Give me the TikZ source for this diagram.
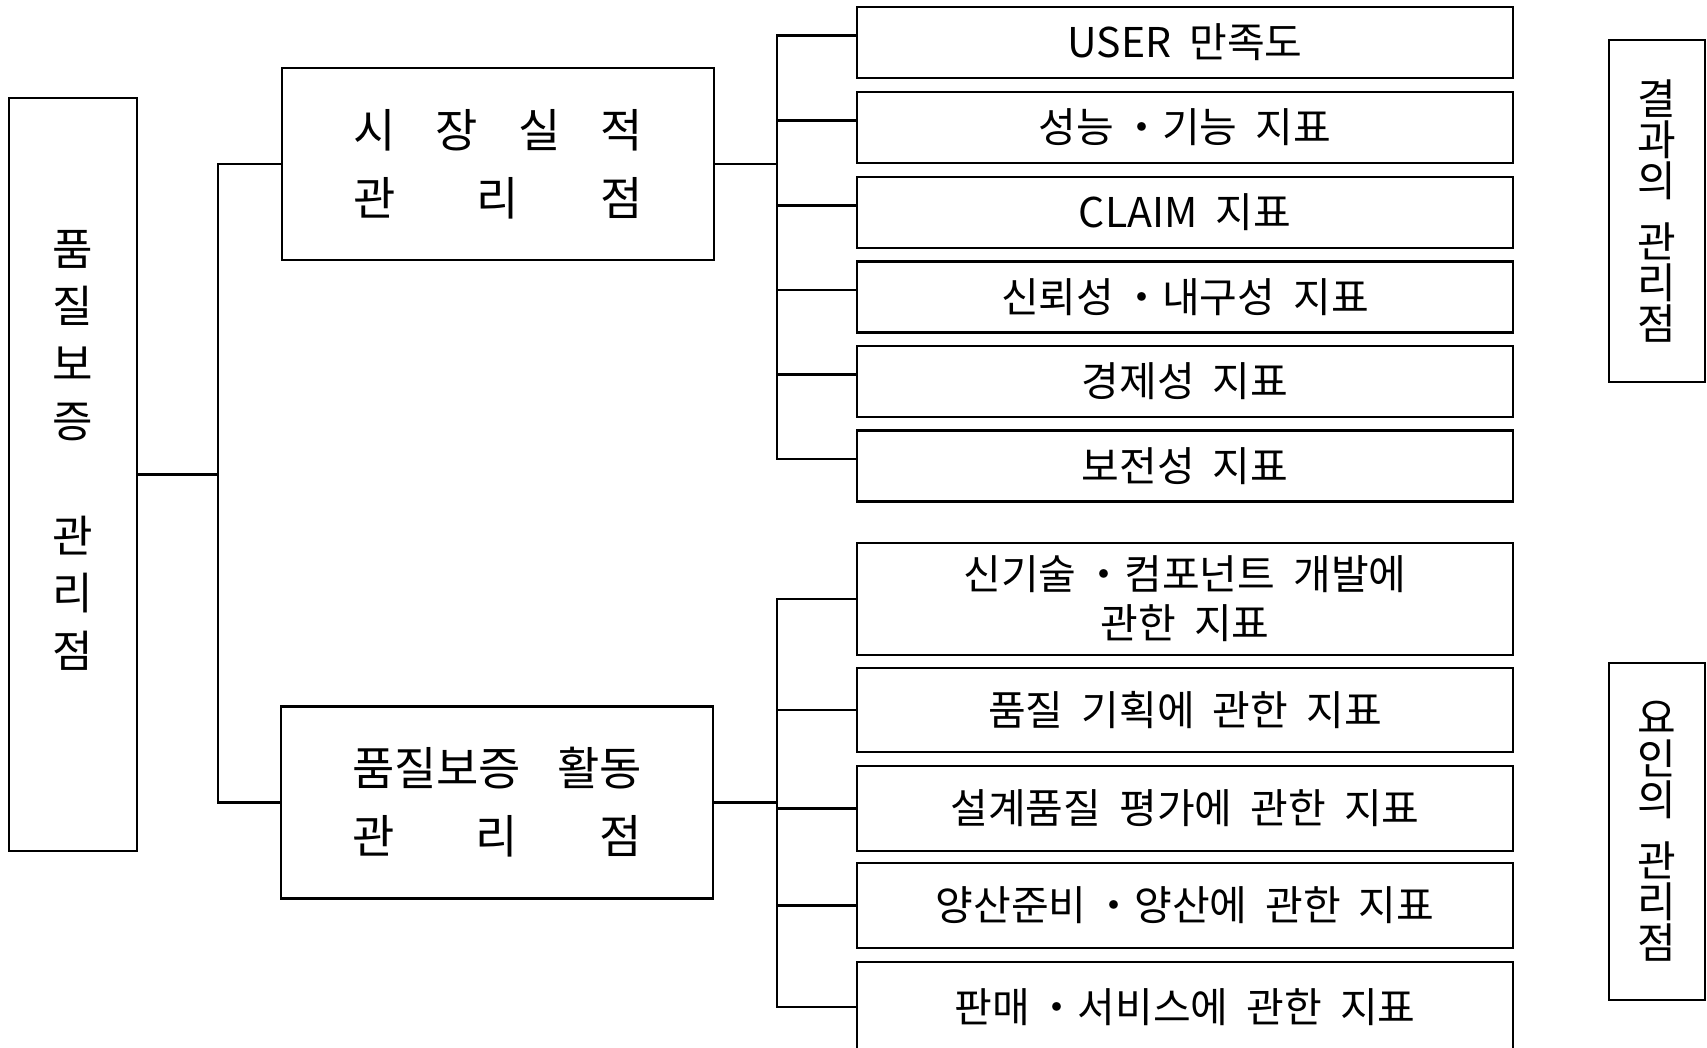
\documentclass[tikz,border=0pt]{standalone}
\usepackage{fontspec}
\setmainfont{Noto Sans CJK KR}
\usepackage{tikz}
\usetikzlibrary{positioning}
\def\idxwidth{328pt}
\def\idxheight{35.5pt}
\def\ptwidth{216pt}
\def\ptheight{96pt}
\def\sidewidth{48pt}
\def\trunkx{777}
\def\idxfont{\fontsize{20.5}{24.5}\selectfont\spaceskip=9pt\relax}

\begin{document}
\begin{tikzpicture}[x=0.5pt, y=-0.5pt,
    box/.style={draw, line width=1.25pt, inner sep=0pt, align=center},
    idxbox/.style={box, minimum width=\idxwidth, minimum height=\idxheight, font=\idxfont},
    ptbox/.style={box, minimum width=\ptwidth, minimum height=\ptheight, font=\fontsize{23}{34}\selectfont},
    sidebox/.style={box, minimum width=\sidewidth},
    conn/.style={line width=1.05pt}]
  \useasboundingbox (0,0) rectangle (1707,1048);
  %\draw [step=50, help lines] (0,0) grid (1707,1048);

  % left column
  \node[sidebox, minimum width=64pt, minimum height=376.5pt] (qa) at (73,474.5) {};
  \node[align=center, font=\fontsize{22}{28.7}\selectfont] (qatext) at (73,450) {품\\질\\보\\증\\[28.7pt]관\\리\\점};

  % middle column
  \node[ptbox] (mkt) at (498,164) {\makebox[145pt][s]{시\hfill 장\hfill 실\hfill 적}\\\makebox[145pt][s]{관\hfill 리\hfill 점}};
  \node[ptbox] (act) at (497,802.5) {\makebox[145pt][s]{품질보증\hfill 활동}\\\makebox[145pt][s]{관\hfill 리\hfill 점}};

  % index boxes, upper group
  \node[idxbox] (u1) at (1185,42.5) {USER 만족도};
  \node[idxbox] (u2) at (1185,127.5) {성능\,・기능 지표};
  \node[idxbox] (u3) at (1185,212.5) {CLAIM 지표};
  \node[idxbox] (u4) at (1185,297) {신뢰성\,・내구성 지표};
  \node[idxbox] (u5) at (1185,381.5) {경제성 지표};
  \node[idxbox] (u6) at (1185,466) {보전성 지표};

  % index boxes, lower group
  \node[idxbox, minimum height=56pt] (l1) at (1185,599) {신기술\,・컴포넌트 개발에\\관한 지표};
  \node[idxbox, minimum height=42pt] (l2) at (1185,710) {품질 기획에 관한 지표};
  \node[idxbox, minimum height=42.5pt] (l3) at (1185,808.5) {설계품질 평가에 관한 지표};
  \node[idxbox, minimum height=42.5pt] (l4) at (1185,905.5) {양산준비\,・양산에 관한 지표};
  \node[idxbox, minimum height=45pt] (l5) at (1185,1007) {판매\,・서비스에 관한 지표};

  % right column
  \node[sidebox, minimum height=171pt, font=\fontsize{21}{20.5}\selectfont] (res) at (1657,211) {결\\과\\의\\[10pt]관\\리\\점};
  \node[sidebox, minimum height=168.5pt, font=\fontsize{21}{20.5}\selectfont] (fac) at (1657,831.5) {요\\인\\의\\[10pt]관\\리\\점};

  % connectors
  \coordinate (lj) at (218,474.5);
  \draw[conn] (qa.east) -- (lj);
  \draw[conn] (mkt.west) -| (lj) |- (act.west);

  \coordinate (uj) at (\trunkx,164);
  \draw[conn] (mkt.east) -- (uj);
  \foreach \i in {1,...,6}
    \draw[conn] (uj) |- ([yshift=3.5pt]u\i.west);

  \coordinate (dj) at (\trunkx,802.5);
  \draw[conn] (act.east) -- (dj);
  \foreach \i in {1,...,5}
    \draw[conn] (dj) |- (l\i.west);
\end{tikzpicture}
\end{document}
